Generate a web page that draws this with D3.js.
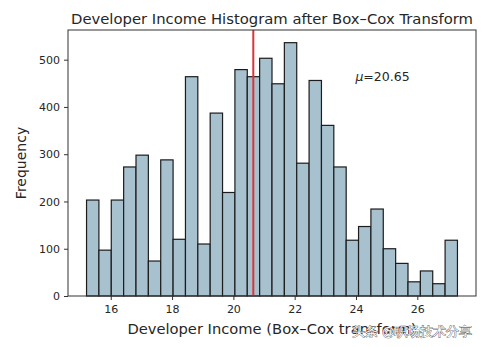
<!DOCTYPE html>
<html>
<head>
<meta charset="utf-8">
<script src="https://cdn.jsdelivr.net/npm/d3@7"></script>
<style>
  html, body { margin: 0; padding: 0; background: #fff; }
  svg text { font-family: "DejaVu Sans", sans-serif; fill: #262626; }
</style>
</head>
<body>
<svg id="chart" width="487" height="347"></svg>
<script>
// ---- data ----
const binMin = 15.21;
const binMax = 27.31;
const counts = [203, 97, 203, 273, 298, 74, 288, 120, 464, 110,
                387, 219, 479, 464, 503, 449, 536, 281, 456, 361,
                273, 118, 147, 184, 100, 69, 30, 53, 26, 118];
const meanValue = 20.65;
const xTicks = [16, 18, 20, 22, 24, 26];
const yTicks = [0, 100, 200, 300, 400, 500];
const titleText = "Developer Income Histogram after Box\u2013Cox Transform";
const xLabel = "Developer Income (Box\u2013Cox transform)";
const yLabel = "Frequency";
const watermark = "头条 @职场技术分享";

// ---- layout ----
const svg = d3.select("#chart");
const margin = {left: 68, right: 11, top: 30, bottom: 51};
const W = 487, H = 347;
const innerW = W - margin.left - margin.right;
const innerH = H - margin.top - margin.bottom;

const nBins = counts.length;
const binW = (binMax - binMin) / nBins;
const bins = counts.map((c, i) => ({x0: binMin + i * binW, x1: binMin + (i + 1) * binW, count: c}));

const pad = (binMax - binMin) * 0.05;
const x = d3.scaleLinear().domain([binMin - pad, binMax + pad]).range([0, innerW]);
const yMax = d3.max(counts) * 1.05;
const y = d3.scaleLinear().domain([0, yMax]).range([innerH, 0]);

const g = svg.append("g").attr("transform", `translate(${margin.left},${margin.top})`);

// bars
g.selectAll("rect.bar").data(bins).enter().append("rect")
  .attr("class", "bar")
  .attr("x", d => x(d.x0))
  .attr("y", d => y(d.count))
  .attr("width", d => x(d.x1) - x(d.x0))
  .attr("height", d => y(0) - y(d.count))
  .attr("fill", "#a8c1cf")
  .attr("stroke", "#1c1c1c")
  .attr("stroke-width", 1.2);

// mean line
g.append("line")
  .attr("x1", x(meanValue)).attr("x2", x(meanValue))
  .attr("y1", 0).attr("y2", innerH)
  .attr("stroke", "#d8363a").attr("stroke-width", 2);

// mean text
const mt = g.append("text")
  .attr("x", x(23.98)).attr("y", y(454))
  .attr("font-size", 12.5);
mt.append("tspan").attr("font-style", "italic").text("\u03bc");
mt.append("tspan").text("=" + meanValue.toFixed(2));

// axes
const xAxis = d3.axisBottom(x).tickValues(xTicks).tickSize(4).tickPadding(5);
const yAxis = d3.axisLeft(y).tickValues(yTicks).tickSize(4).tickPadding(4);

const gx = g.append("g").attr("transform", `translate(0,${innerH})`).call(xAxis);
const gy = g.append("g").call(yAxis);
[gx, gy].forEach(a => {
  a.select(".domain").remove();
  a.selectAll("text").attr("font-size", 11).attr("font-family", "DejaVu Sans, sans-serif").attr("fill", "#262626");
  a.selectAll("line").attr("stroke", "#333").attr("stroke-width", 1);
});

// frame
g.append("rect").attr("x", 0).attr("y", 0).attr("width", innerW).attr("height", innerH)
  .attr("fill", "none").attr("stroke", "#333").attr("stroke-width", 1);

// title and labels
svg.append("text").attr("x", margin.left + innerW / 2).attr("y", 24)
  .attr("text-anchor", "middle").attr("font-size", 14.8).text(titleText);
svg.append("text").attr("x", margin.left + innerW / 2).attr("y", 334)
  .attr("text-anchor", "middle").attr("font-size", 14.7).text(xLabel);
svg.append("text").attr("transform", `translate(26,${margin.top + innerH / 2}) rotate(-90)`)
  .attr("text-anchor", "middle").attr("font-size", 14).text(yLabel);

// watermark
svg.append("text").attr("x", 352).attr("y", 336)
  .attr("font-family", "Noto Sans CJK SC, sans-serif")
  .attr("font-size", 12.5)
  .style("fill", "#ffffff").style("stroke", "#555").style("stroke-width", 0.8)
  .style("paint-order", "stroke")
  .text(watermark);
</script>
</body>
</html>
